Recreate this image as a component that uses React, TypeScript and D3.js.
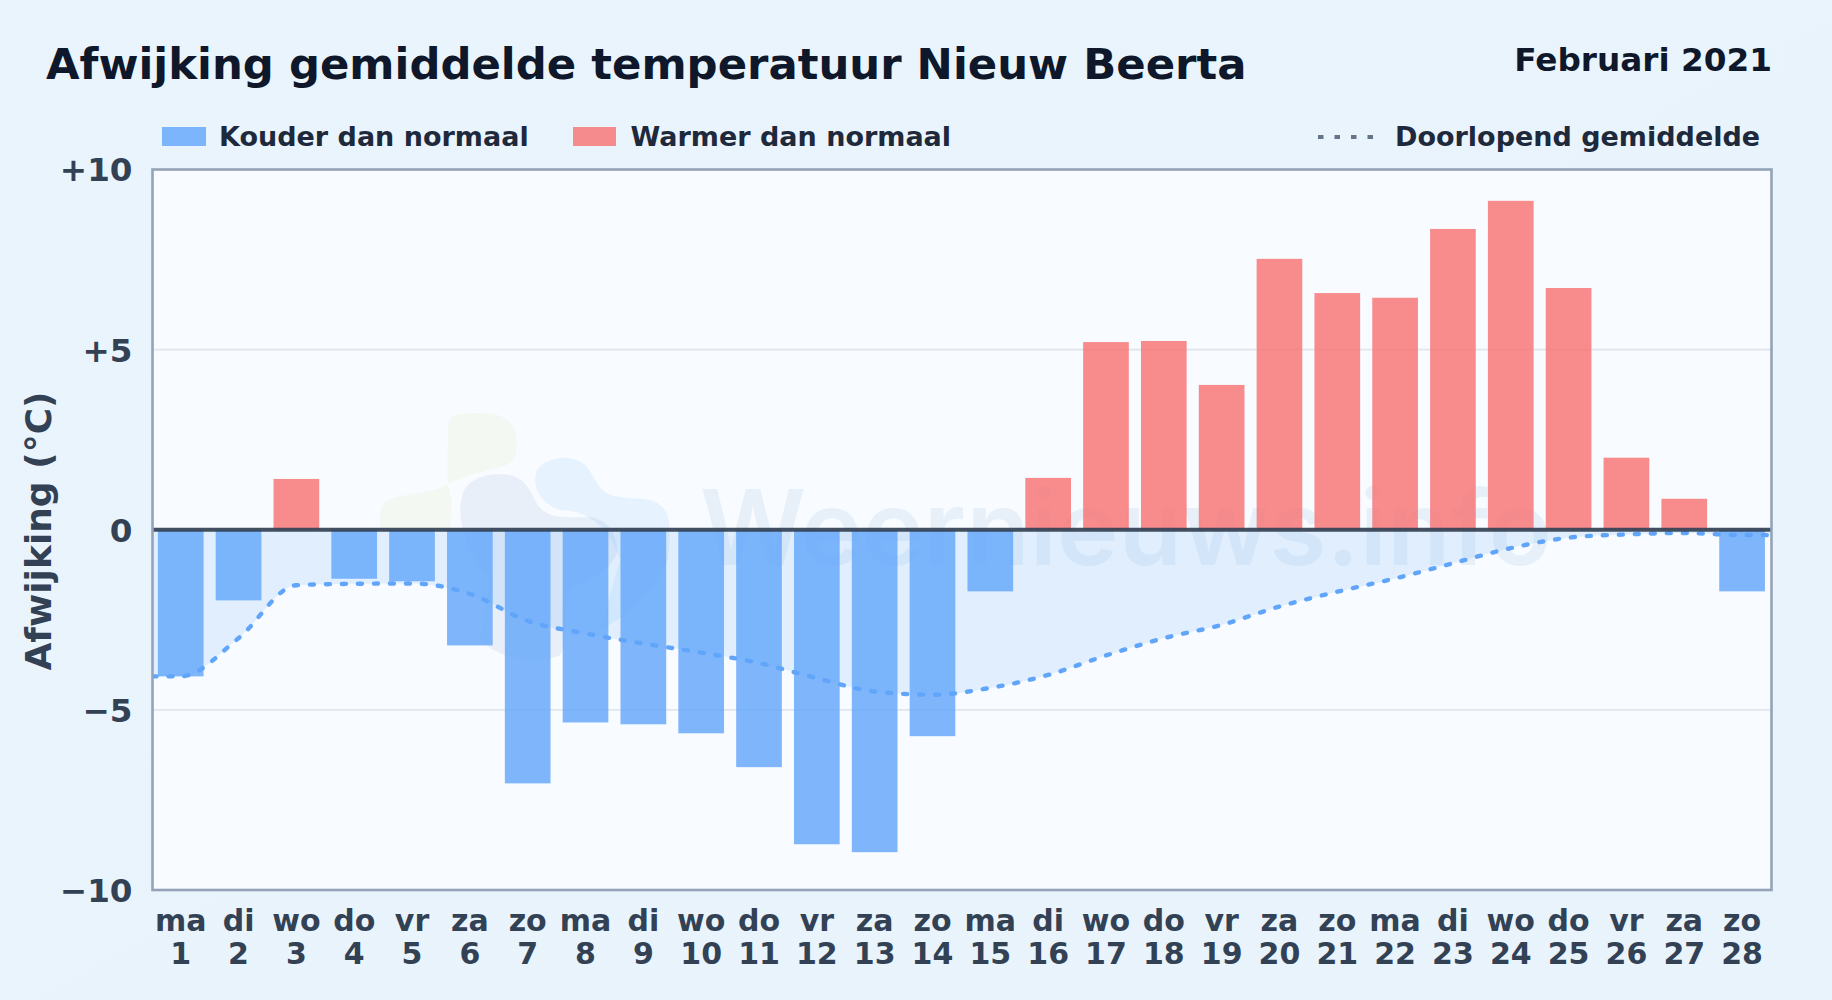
import * as d3 from 'd3'
import { useEffect, useRef } from 'react'

const W = 1832, H = 1000
const m = { top: 169.5, right: 60.5, bottom: 110, left: 152.5 }

const weekdays = ['ma', 'di', 'wo', 'do', 'vr', 'za', 'zo', 'ma', 'di', 'wo', 'do', 'vr', 'za', 'zo', 'ma', 'di', 'wo', 'do', 'vr', 'za', 'zo', 'ma', 'di', 'wo', 'do', 'vr', 'za', 'zo']
const days = d3.range(1, 29)
const anomaly = [-4.07, -1.96, 1.41, -1.36, -1.43, -3.21, -7.04, -5.35, -5.40, -5.65, -6.59, -8.73, -8.95, -5.73, -1.71, 1.44, 5.21, 5.24, 4.02, 7.52, 6.57, 6.44, 8.35, 9.13, 6.71, 2.0, 0.86, -1.71]
const runningMean = [-4.07, -3.01, -1.54, -1.50, -1.49, -1.78, -2.53, -2.88, -3.16, -3.41, -3.70, -4.12, -4.49, -4.58, -4.39, -4.03, -3.49, -3.01, -2.64, -2.13, -1.72, -1.35, -0.93, -0.51, -0.22, -0.13, -0.09, -0.15]
const yTicks = [10, 5, 0, -5, -10]

const font = '"DejaVu Sans", sans-serif'
const cold = '#60a5fa', warm = '#f87171'

export default function App() {
  const ref = useRef<SVGSVGElement | null>(null)

  useEffect(() => {
    if (!ref.current) return
    const svg = d3.select(ref.current)
    svg.selectAll('*').remove()
    const right = W - m.right, bottom = H - m.bottom

    const defs = svg.append('defs')
    const bg = defs.append('linearGradient').attr('id', 'bg').attr('x1', 0).attr('y1', 0).attr('x2', 1).attr('y2', 1)
    bg.append('stop').attr('offset', 0).attr('stop-color', '#eaf4fd')
    bg.append('stop').attr('offset', 1).attr('stop-color', '#e8f3fb')
    defs.append('clipPath').attr('id', 'plot').append('rect')
      .attr('x', m.left).attr('y', m.top).attr('width', right - m.left).attr('height', bottom - m.top)

    svg.append('rect').attr('width', W).attr('height', H).attr('fill', 'url(#bg)')
    svg.append('rect').attr('x', m.left).attr('y', m.top)
      .attr('width', right - m.left).attr('height', bottom - m.top).attr('fill', '#f8fbff')

    const x = d3.scaleBand<number>().domain(days).range([151.8, 1771]).paddingInner(0.21).paddingOuter(0.105)
    const y = d3.scaleLinear().domain([-10, 10]).range([bottom, m.top])
    const cx = (d: number) => (x(d) ?? 0) + x.bandwidth() / 2

    // watermark sits behind the bars
    const wm = svg.append('g').attr('pointer-events', 'none')
    wm.append('path').attr('fill', '#b5d334').attr('opacity', 0.06)
      .attr('d', 'M448 433 C446 412 460 413 482 413 C510 413 517 428 517 445 C517 462 510 465 490 470 C470 474 455 480 440 488 C425 494 395 494 385 502 C378 510 379 525 382 532 L450 532 L452 500 C445 480 448 460 448 433 Z')
    wm.append('path').attr('fill', '#1e5aa8').attr('opacity', 0.07)
      .attr('d', 'M462 497 C465 478 490 472 510 475 C530 480 532 498 540 508 C552 520 570 517 590 517 C612 520 618 540 617 553 C612 570 585 580 570 590 C560 610 570 640 560 655 C540 665 500 660 480 640 L490 580 C470 560 455 520 462 497 Z')
    wm.append('path').attr('fill', '#3aa0f0').attr('opacity', 0.09)
      .attr('d', 'M537 470 C545 458 570 452 585 465 C598 480 598 495 620 497 C645 500 655 497 665 510 C672 522 670 540 668 560 C650 600 620 620 600 630 L620 560 C610 530 590 510 560 510 C545 505 530 490 537 470 Z')
    wm.append('text').attr('x', 700).attr('y', 565)
      .attr('font-family', 'Inter, sans-serif').attr('font-weight', 600).attr('font-size', 104)
      .attr('fill', '#1e6fb8').attr('opacity', 0.07).text('Weernieuws.info')

    // grid
    svg.append('g').selectAll('line').data([5, -5]).enter().append('line')
      .attr('x1', m.left).attr('x2', right).attr('y1', d => y(d)).attr('y2', d => y(d))
      .attr('stroke', '#e0e6ec').attr('stroke-width', 1.8)

    // running mean area + line, with the ends carried to the plot edges
    const meanPts: [number, number][] = [
      [m.left, runningMean[0]],
      ...days.map((d, i) => [cx(d), runningMean[i]] as [number, number]),
      [right, runningMean[runningMean.length - 1]],
    ]
    svg.append('path').datum(meanPts)
      .attr('d', d3.area<[number, number]>().x(d => d[0]).y0(y(0)).y1(d => y(d[1])).curve(d3.curveMonotoneX))
      .attr('fill', cold).attr('fill-opacity', 0.15)

    // bars
    svg.append('g').selectAll('rect').data(anomaly).enter().append('rect')
      .attr('x', (_, i) => x(days[i]) ?? 0).attr('width', x.bandwidth())
      .attr('y', d => y(Math.max(d, 0))).attr('height', d => Math.abs(y(d) - y(0)))
      .attr('fill', d => d < 0 ? cold : warm).attr('fill-opacity', 0.8)

    svg.append('path').datum(meanPts)
      .attr('clip-path', 'url(#plot)')
      .attr('d', d3.line<[number, number]>().x(d => d[0]).y(d => y(d[1])).curve(d3.curveMonotoneX))
      .attr('fill', 'none').attr('stroke', cold).attr('stroke-width', 4.4)
      .attr('stroke-linecap', 'round').attr('stroke-dasharray', '4 12')

    // zero line
    svg.append('line').attr('x1', m.left).attr('x2', right).attr('y1', y(0)).attr('y2', y(0))
      .attr('stroke', '#334155').attr('stroke-width', 4).attr('stroke-opacity', 0.92)

    // frame
    svg.append('rect').attr('x', m.left).attr('y', m.top)
      .attr('width', right - m.left).attr('height', bottom - m.top)
      .attr('fill', 'none').attr('stroke', '#94a3b8').attr('stroke-width', 2.6)

    // axes
    const yAxis = svg.append('g').attr('transform', `translate(${m.left},1)`)
      .call(d3.axisLeft(y).tickValues(yTicks).tickSize(0).tickPadding(20)
        .tickFormat(d => {
          const v = +d
          return v > 0 ? `+${v}` : v < 0 ? `\u2212${-v}` : '0'
        }))
    yAxis.select('.domain').remove()
    yAxis.selectAll('text').attr('font-family', font).attr('font-weight', 700)
      .attr('font-size', 32.6).attr('fill', '#334155')

    const xAxis = svg.append('g').attr('transform', `translate(0,${bottom})`)
      .call(d3.axisBottom(x).tickSize(0).tickFormat(() => ''))
    xAxis.select('.domain').remove()
    xAxis.selectAll<SVGTextElement, number>('text').each(function (d, i) {
      const t = d3.select(this).attr('y', null).attr('dy', null)
        .attr('font-family', font).attr('font-weight', 700).attr('font-size', 30).attr('fill', '#334155')
      t.append('tspan').attr('x', 0).attr('y', 41).text(weekdays[i])
      t.append('tspan').attr('x', 0).attr('y', 74).text(d)
    })

    svg.append('text').attr('transform', 'translate(51,531) rotate(-90)').attr('text-anchor', 'middle')
      .attr('font-family', font).attr('font-weight', 700).attr('font-size', 36).attr('fill', '#334155')
      .text('Afwijking (°C)')

    // header
    const label = (tx: number, ty: number, size: number, fill: string, s: string, anchor = 'start') =>
      svg.append('text').attr('x', tx).attr('y', ty).attr('text-anchor', anchor)
        .attr('font-family', font).attr('font-weight', 700).attr('font-size', size).attr('fill', fill).text(s)
    label(46, 79, 43.36, '#0f172a', 'Afwijking gemiddelde temperatuur Nieuw Beerta')
    label(1772, 70.5, 32.7, '#0f172a', 'Februari 2021', 'end')

    // legend
    svg.append('rect').attr('x', 162).attr('y', 127).attr('width', 44).attr('height', 19).attr('fill', cold).attr('fill-opacity', 0.8)
    label(219, 145.5, 27, '#1e293b', 'Kouder dan normaal')
    svg.append('rect').attr('x', 573).attr('y', 127).attr('width', 43).attr('height', 19).attr('fill', warm).attr('fill-opacity', 0.8)
    label(630.5, 145.5, 27, '#1e293b', 'Warmer dan normaal')
    svg.append('line').attr('x1', 1318).attr('x2', 1374).attr('y1', 137).attr('y2', 137)
      .attr('stroke', '#64748b').attr('stroke-width', 4).attr('stroke-dasharray', '5.5 11')
    label(1395, 145.5, 27, '#1e293b', 'Doorlopend gemiddelde')
  }, [])

  return <svg ref={ref} width={W} height={H} style={{ position: 'absolute', left: 0, top: 0, display: 'block' }} />
}
